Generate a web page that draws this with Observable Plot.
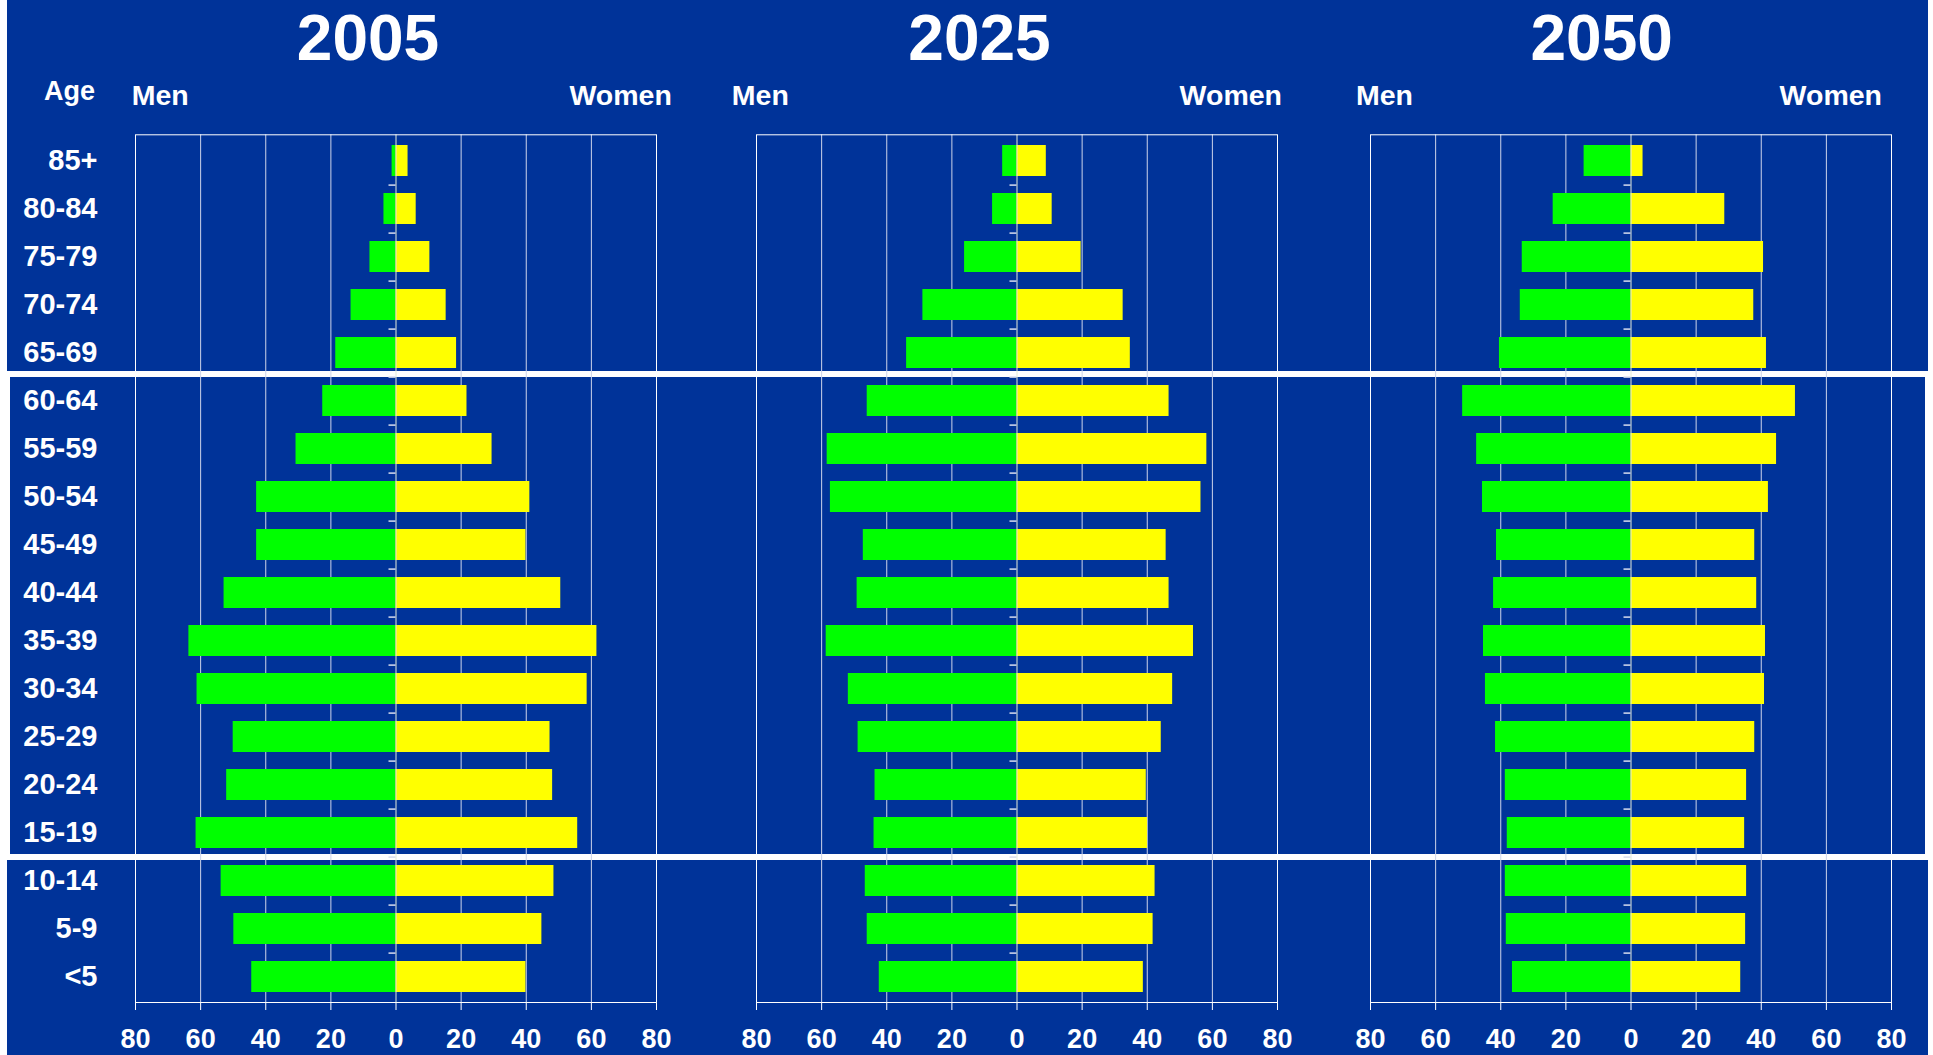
<!DOCTYPE html>
<html>
<head>
<meta charset="utf-8">
<script src="https://cdn.jsdelivr.net/npm/d3@7"></script>
<script src="https://cdn.jsdelivr.net/npm/@observablehq/plot@0.6"></script>
<style>
html, body { margin: 0; padding: 0; background: #ffffff; }
#chart { position: relative; width: 1933px; height: 1055px; overflow: hidden;
  font-family: "Liberation Sans", Arial, Helvetica, sans-serif; font-weight: bold; color: #ffffff; }
.blk { position: absolute; background: #003399; }
.t { position: absolute; white-space: nowrap; }
.pw { position: absolute; top: 0; }
</style>
</head>
<body>
<div id="chart"></div>
<script>
// ---- data (thousands) ----
const ages = ["85+", "80-84", "75-79", "70-74", "65-69", "60-64", "55-59", "50-54", "45-49",
              "40-44", "35-39", "30-34", "25-29", "20-24", "15-19", "10-14", "5-9", "<5"];
const years = ["2005", "2025", "2050"];
const men2005   = [1.2, 3.7, 8.0, 13.8, 18.5, 22.5, 30.7, 42.8, 42.8, 52.8, 63.6, 61.1, 50.0, 52.0, 61.4, 53.7, 49.8, 44.3];
const women2005 = [3.7, 6.2, 10.4, 15.4, 18.6, 21.8, 29.5, 41.1, 39.9, 50.6, 61.7, 58.7, 47.3, 48.1, 55.8, 48.5, 44.8, 39.9];
const men2025   = [4.4, 7.5, 16.1, 28.9, 33.9, 46.0, 58.3, 57.3, 47.2, 49.1, 58.6, 51.8, 48.8, 43.6, 43.9, 46.6, 46.0, 42.3];
const women2025 = [9.0, 10.8, 19.7, 32.6, 34.8, 46.7, 58.3, 56.5, 45.8, 46.7, 54.2, 47.8, 44.3, 39.7, 40.1, 42.4, 41.8, 38.8];
const men2050   = [14.4, 23.9, 33.4, 34.0, 40.4, 51.7, 47.4, 45.6, 41.3, 42.2, 45.3, 44.7, 41.6, 38.6, 38.0, 38.6, 38.3, 36.4];
const women2050 = [3.7, 28.8, 40.7, 37.7, 41.6, 50.5, 44.7, 42.2, 38.0, 38.6, 41.3, 41.0, 38.0, 35.5, 34.9, 35.5, 35.2, 33.7];
const xTicks = [-80, -60, -40, -20, 0, 20, 40, 60, 80];
const sideLabels = ["Men", "Women"];
const ageTitle = "Age";

// ---- layout ----
const H = 1055, frameTop = 134.3, frameBottom = 1002;
const panelW = 521;
const panels = [
  {year: years[0], men: men2005, women: women2005, left: 135, ml: 135, title: 368, menX: 131.7, womenX: 671.9, ages: true},
  {year: years[1], men: men2025, women: women2025, left: 756, ml: 20, title: 979.5, menX: 731.8, womenX: 1282, ages: false},
  {year: years[2], men: men2050, women: women2050, left: 1370, ml: 20, title: 1601.7, menX: 1356, womenX: 1882, ages: false}
];
const font = '"Liberation Sans", Arial, Helvetica, sans-serif';
const chart = document.getElementById("chart");

function block(l, t, w, h) {
  const d = document.createElement("div");
  d.className = "blk";
  Object.assign(d.style, {left: l + "px", top: t + "px", width: w + "px", height: h + "px"});
  chart.appendChild(d);
}
block(7, 0, 1921, 371);
block(10, 377, 1915, 477);
block(7, 860, 1921, 195);

function label(str, x, baseline, size, anchor) {
  const d = document.createElement("div");
  d.className = "t";
  d.textContent = str;
  Object.assign(d.style, {left: x + "px", top: (baseline - 0.8465 * size) + "px",
    fontSize: size + "px", lineHeight: size + "px"});
  if (anchor === "middle") d.style.transform = "translateX(-50%)";
  if (anchor === "end") d.style.transform = "translateX(-100%)";
  chart.appendChild(d);
}

const step = (frameBottom - frameTop) / ages.length;
const tickLenUnits = 7 / (panelW / 160);

for (const p of panels) {
  const data = ages.map((age, i) => ({age, men: p.men[i], women: p.women[i]}));
  const mr = 20;
  const marks = [
    Plot.ruleX(xTicks.filter(d => Math.abs(d) < 80 && d !== 0), {stroke: "#cdd4ea", strokeWidth: 1}),
    Plot.barX(data, {y: "age", x1: 0, x2: d => -d.men, fill: "#00ff00"}),
    Plot.barX(data, {y: "age", x1: 0, x2: "women", fill: "#ffff00"}),
    Plot.ruleX([0], {stroke: "#e4ecd8", strokeWidth: 1}),
    Plot.ruleY(ages.slice(0, -1), {y: d => d, x1: -tickLenUnits, x2: 0, dy: step / 2, stroke: "#d6dcee", strokeWidth: 1.5}),
    Plot.frame({stroke: "#ffffff"}),
    Plot.axisX({ticks: xTicks, tickFormat: d => Math.abs(d), tickSize: 8, tickPadding: 18,
      fontSize: 27, fontWeight: "bold", label: null, stroke: "#ffffff", fill: "#ffffff"})
  ];
  if (p.ages) marks.push(Plot.axisY({tickSize: 0, tickPadding: 38, fontSize: 29, fontWeight: "bold",
      label: null, fill: "#ffffff"}));
  const svg = Plot.plot({
    width: p.ml + panelW + mr,
    height: H,
    marginLeft: p.ml, marginRight: mr, marginTop: frameTop, marginBottom: H - frameBottom,
    style: {background: "transparent", color: "#ffffff", fontFamily: font, fontWeight: "bold", overflow: "visible"},
    x: {domain: [-80, 80]},
    y: p.ages ? {domain: ages, paddingInner: 0.364, paddingOuter: 0.182}
              : {domain: ages, paddingInner: 0.364, paddingOuter: 0.182, axis: null},
    marks
  });
  const wrap = document.createElement("div");
  wrap.className = "pw";
  wrap.style.left = (p.left - p.ml) + "px";
  wrap.appendChild(svg);
  chart.appendChild(wrap);

  label(p.year, p.title, 60, 64, "middle");
  label(sideLabels[0], p.menX, 105, 28.5, "start");
  label(sideLabels[1], p.womenX, 105, 28.5, "end");
}
label(ageTitle, 95, 100.5, 27, "end");
</script>
</body>
</html>
